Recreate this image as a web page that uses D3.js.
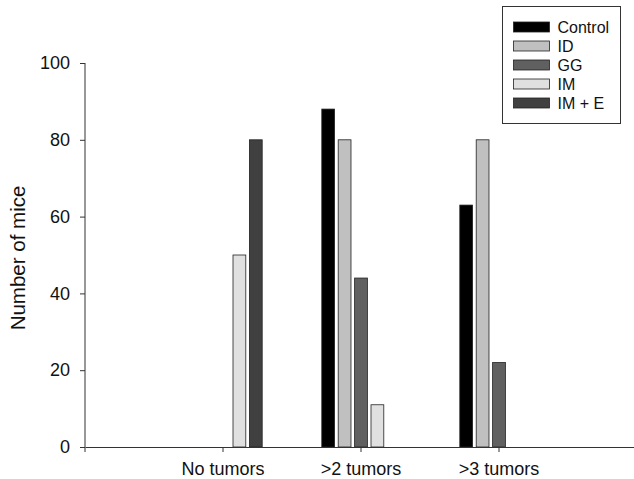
<!DOCTYPE html>
<html>
<head>
<meta charset="utf-8">
<script src="https://cdn.jsdelivr.net/npm/d3@7"></script>
<style>
  body { margin: 0; background: #fff; }
  svg { display: block; font-family: "Liberation Sans", Arial, sans-serif; }
</style>
</head>
<body>
<svg id="chart" width="634" height="479"></svg>
<script>
const categories = ['No tumors', '>2 tumors', '>3 tumors']
const groups = ['Control', 'ID', 'GG', 'IM', 'IM + E']
const colors = ['#000000', '#c0c0c0', '#606060', '#e0e0e0', '#404040']

// values per group, one per category (null = no bar)
const control = [null, 88, 63]
const id = [null, 80, 80]
const gg = [null, 44, 22]
const im = [50, 11, null]
const imE = [80, null, null]

const yTicks = [0, 20, 40, 60, 80, 100]

const series = [control, id, gg, im, imE]

const svg = d3.select('#chart')

const x = d3.scaleBand().domain(categories).range([85, 637]).paddingOuter(0.5).paddingInner(0)
const xs = d3.scaleBand().domain(groups).range([-41, 41]).paddingInner(0.22).paddingOuter(0.11)
const y = d3.scaleLinear().domain([0, 100]).range([447, 63])

const rows = []
series.forEach((vals, gi) => {
    vals.forEach((v, ci) => {
        if (v !== null) rows.push({ cat: categories[ci], group: groups[gi], value: v, color: colors[gi] })
    })
})

svg.append('g').selectAll('rect').data(rows).enter()
    .append('rect')
    .attr('x', d => x(d.cat) + x.bandwidth() / 2 + xs(d.group))
    .attr('y', d => y(d.value))
    .attr('width', xs.bandwidth())
    .attr('height', d => y(0) - y(d.value))
    .attr('fill', d => d.color)
    .attr('stroke', '#222')
    .attr('stroke-width', 0.8)

const xg = svg.append('g').attr('transform', 'translate(0,447)')
    .call(d3.axisBottom(x).tickSize(5).tickSizeOuter(0))
xg.attr('font-family', null).attr('font-size', 18)
xg.selectAll('.tick text').attr('y', 15).attr('fill', '#111')
xg.selectAll('line, path').attr('stroke', '#333')

const yg = svg.append('g').attr('transform', 'translate(85,0)')
    .call(d3.axisLeft(y).tickValues(yTicks).tickSize(5).tickSizeOuter(0))
yg.attr('font-family', null).attr('font-size', 18)
yg.selectAll('.tick text').attr('x', -15).attr('fill', '#111')
yg.selectAll('line, path').attr('stroke', '#333')
yg.select('.domain').attr('d', 'M0,' + y(100) + 'V' + (y(0) + 5))

svg.append('text')
    .attr('transform', 'translate(25,258) rotate(-90)')
    .attr('text-anchor', 'middle')
    .attr('font-size', 20.5)
    .attr('fill', '#111')
    .text('Number of mice')

// legend
const lg = svg.append('g').attr('transform', 'translate(502.5,6.5)')
lg.append('rect').attr('width', 118).attr('height', 117)
    .attr('fill', '#fff').attr('stroke', '#333').attr('stroke-width', 1)
const item = lg.selectAll('.item').data(groups).enter()
    .append('g').attr('transform', (d, i) => 'translate(11,' + (15.5 + i * 19) + ')')
item.append('rect').attr('width', 36).attr('height', 10)
    .attr('fill', (d, i) => colors[i]).attr('stroke', '#222').attr('stroke-width', 0.8)
item.append('text').attr('x', 44).attr('y', 11).attr('font-size', 16).attr('fill', '#111').text(d => d)
</script>
</body>
</html>
